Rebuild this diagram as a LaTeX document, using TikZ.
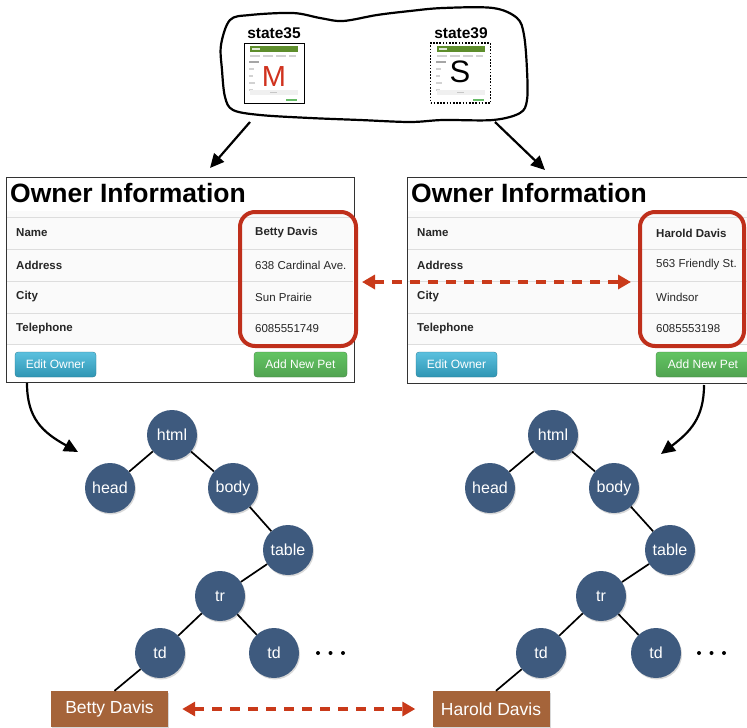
\documentclass[tikz,border=0pt]{standalone}
\usepackage{fontspec}
\setmainfont{Liberation Sans}
\usetikzlibrary{arrows.meta,shadows}
\definecolor{nodeblue}{HTML}{3E5A7E}
\definecolor{brownbox}{HTML}{A5643A}
\definecolor{redarrow}{HTML}{C93A1A}
\definecolor{redframe}{HTML}{BF2F1B}
\definecolor{btnbluetop}{HTML}{5BC0DE}
\definecolor{btnbluebot}{HTML}{2F96B4}
\definecolor{btngreentop}{HTML}{62C462}
\definecolor{btngreenbot}{HTML}{51A351}
\definecolor{rowline}{HTML}{DDDDDD}
\definecolor{thumbgreen}{HTML}{5E8E2C}
\definecolor{mred}{HTML}{D0321E}
\begin{document}
\begin{tikzpicture}[x=1pt,y=-1pt,
  treenode/.style={circle,fill=nodeblue,minimum size=50pt,inner sep=0pt,text=white,
    font=\fontsize{16}{16}\selectfont,
    drop shadow={opacity=0.3,shadow xshift=1pt,shadow yshift=-1.5pt}},
  leafbox/.style={rectangle,fill=brownbox,minimum width=117pt,minimum height=36pt,inner sep=0pt,
    text=white,font=\fontsize{17.5}{18}\selectfont,
    drop shadow={opacity=0.3,shadow xshift=1pt,shadow yshift=-1.5pt}},
  treeedge/.style={line width=1.7pt,black},
  paneltitle/.style={anchor=west,inner sep=0pt,font=\fontsize{26.5}{30}\selectfont\bfseries},
  rowlabel/.style={anchor=west,inner sep=0pt,font=\fontsize{11.5}{13}\selectfont\bfseries,text=black!85},
  rowvalue/.style={anchor=west,inner sep=0pt,font=\fontsize{11.5}{13}\selectfont,text=black!85},
  rowvaluebold/.style={rowvalue,font=\fontsize{11.5}{13}\selectfont\bfseries},
  bluebtn/.style={rectangle,rounded corners=3pt,top color=btnbluetop,bottom color=btnbluebot,
    draw=btnbluebot!80!black,line width=0.3pt,text=white,font=\fontsize{12}{13}\selectfont,
    minimum height=25pt,inner sep=0pt},
  greenbtn/.style={bluebtn,top color=btngreentop,bottom color=btngreenbot,draw=btngreenbot!80!black},
  redbox/.style={draw=redframe,line width=4pt,rounded corners=15pt},
  reddash/.style={draw=redarrow,line width=4pt,dash pattern=on 10pt off 8pt,
    {Triangle[length=13pt,width=14pt]}-{Triangle[length=13pt,width=14pt]}},
  sketcharrow/.style={line width=2.2pt,black,-{Triangle[length=14pt,width=13pt]}},
  statelabel/.style={inner sep=0pt,font=\fontsize{15.5}{16}\selectfont\bfseries},
  thumbframe/.style={rectangle,minimum width=60pt,minimum height=60pt,inner sep=0pt,line width=1pt}
]
\useasboundingbox (0,0) rectangle (747,728);
\clip (0,0) rectangle (747,728);
\fill[white] (0,0) rectangle (747,728);

% ---------- cloud ----------
\draw[line width=2.2pt,black] plot[smooth cycle,tension=0.55] coordinates {
  (221,45) (230,20) (250,15) (293,13) (320,18) (343,21) (377,15) (410,11) (443,8) (493,8)
  (517,18) (524,35) (527,70) (527,100) (520,113) (493,120) (443,120) (410,122) (360,120)
  (310,118) (260,115) (233,110) (225,97) (222,70)};

% thumbnails content
\foreach \tx in {244,431}{
\begin{scope}[shift={(\tx,43)}]
  \fill[thumbgreen] (6,3) rectangle (54,9);
  \fill[white!80!thumbgreen] (8,5) rectangle (16,7);
  \fill[gray!35] (6,12) rectangle (16,14);
  \fill[gray!35] (19,12) rectangle (29,14);
  \fill[gray!35] (32,12) rectangle (42,14);
  \fill[gray!35] (45,12) rectangle (52,14);
  \fill[gray!70] (5,18) rectangle (15,20);
  \fill[gray!35] (5,25) rectangle (10,26.5);
  \fill[gray!35] (5,32) rectangle (9,33.5);
  \fill[gray!35] (5,39) rectangle (11,40.5);
  \fill[gray!35] (5,46) rectangle (9,47.5);
  \fill[gray!12] (6,47) rectangle (54,52);
  \fill[gray!45] (26,49) rectangle (33,50);
  \fill[green!55!black!60] (42,56) rectangle (53,58);
\end{scope}}
\node[thumbframe,draw=black] (thumbM) at (274,73) {};
\node[thumbframe,draw=black,dash pattern=on 1.6pt off 1.6pt,line width=1.2pt] (thumbS) at (460.5,73) {};
\node[inner sep=0pt,text=mred,font=\fontsize{29}{29}\selectfont] (letterM) at (274,77) {M};
\node[inner sep=0pt,text=black,font=\fontsize{31}{31}\selectfont] (letterS) at (460,72) {S};
\node[statelabel] (st35) at (274,33) {state35};
\node[statelabel] (st39) at (461,33) {state39};

% arrows from cloud
\coordinate (cl1) at (250,122);
\coordinate (cl2) at (210,168);
\coordinate (cr1) at (495,122);
\coordinate (cr2) at (545,170);
\draw[sketcharrow] (cl1) -- (cl2);
\draw[sketcharrow] (cr1) -- (cr2);

% ---------- left panel ----------
\draw[black!80,line width=0.8pt,fill=white] (6,177) rectangle (354,382);
\fill[gray!4] (7,211) rectangle (353,344);
\foreach \yy in {217,249,281,313,344}{\draw[rowline,line width=0.8pt] (7,\yy) -- (353,\yy);}
\node[paneltitle] (ltitle) at (10,193) {Owner Information};
\node[rowlabel] (lname) at (16,233) {Name};
\node[rowlabel] (laddr) at (16,265) {Address};
\node[rowlabel] (lcity) at (16,297) {City};
\node[rowlabel] (ltel) at (16,328.5) {Telephone};
\node[rowvaluebold] (lvname) at (255,233) {Betty Davis};
\node[rowvalue] (lvaddr) at (255,265) {638 Cardinal Ave.};
\node[rowvalue] (lvcity) at (255,297) {Sun Prairie};
\node[rowvalue] (lvtel) at (255,328.5) {6085551749};
\node[bluebtn,minimum width=81pt] (ledit) at (55.5,364.5) {Edit Owner};
\node[greenbtn,minimum width=93pt] (ladd) at (300.5,364.5) {Add New Pet};
\draw[redbox] (240,212) rectangle (356,346);

% ---------- right panel ----------
\draw[black!80,line width=0.8pt,fill=white] (407,177) rectangle (760,383);
\fill[gray!4] (408,211) rectangle (760,344);
\foreach \yy in {217,249,281,313,344}{\draw[rowline,line width=0.8pt] (408,\yy) -- (760,\yy);}
\node[paneltitle] (rtitle) at (411,193) {Owner Information};
\node[rowlabel] (rname) at (417,233) {Name};
\node[rowlabel] (raddr) at (417,265) {Address};
\node[rowlabel] (rcity) at (417,297) {City};
\node[rowlabel] (rtel) at (417,328.5) {Telephone};
\node[rowvaluebold] (rvname) at (656,233) {Harold Davis};
\node[rowvalue] (rvaddr) at (656,265) {563 Friendly St.};
\node[rowvalue] (rvcity) at (656,297) {Windsor};
\node[rowvalue] (rvtel) at (656,328.5) {6085553198};
\node[bluebtn,minimum width=81pt] (redit) at (456.5,364.5) {Edit Owner};
\node[greenbtn,minimum width=94pt] (radd) at (703,364.5) {Add New Pet};
\draw[redbox] (640,212) rectangle (744,346);

% middle red dashed arrow
\coordinate (ma) at (362,282);
\coordinate (mb) at (631,282);
\draw[reddash] (ma) -- (mb);

% curved arrows from panels to trees
\coordinate (pl1) at (27,383);
\coordinate (pl2) at (78,452);
\coordinate (pr1) at (704,385);
\coordinate (pr2) at (661,454);
\draw[sketcharrow] (pl1) .. controls (27,418) and (42,432) .. (pl2);
\draw[sketcharrow] (pr1) .. controls (704,418) and (690,432) .. (pr2);

% ---------- left tree ----------
\node[treenode] (Lhtml) at (172,435) {html};
\node[treenode] (Lhead) at (110,488) {head};
\node[treenode] (Lbody) at (233,488) {body};
\node[treenode] (Ltable) at (288,550) {table};
\node[treenode] (Ltr) at (220,596) {tr};
\node[treenode] (Ltda) at (160,653) {td};
\node[treenode] (Ltdb) at (274,653) {td};
\node[leafbox] (Lbox) at (109.5,709) {Betty Davis};
\draw[treeedge] (Lhtml) -- (Lhead);
\draw[treeedge] (Lhtml) -- (Lbody);
\draw[treeedge] (Lbody) -- (Ltable);
\draw[treeedge] (Ltable) -- (Ltr);
\draw[treeedge] (Ltr) -- (Ltda);
\draw[treeedge] (Ltr) -- (Ltdb);
\draw[treeedge] (Ltda) -- ([xshift=5pt]Lbox.north);
\foreach \dx in {318,330.5,343}{\fill[black] (\dx,653) circle (2pt);}

% ---------- right tree ----------
\node[treenode] (Rhtml) at (553,435) {html};
\node[treenode] (Rhead) at (490,488) {head};
\node[treenode] (Rbody) at (614,488) {body};
\node[treenode] (Rtable) at (670,550) {table};
\node[treenode] (Rtr) at (601,596) {tr};
\node[treenode] (Rtda) at (541,653) {td};
\node[treenode] (Rtdb) at (656,653) {td};
\node[leafbox] (Rbox) at (491,709) {Harold Davis};
\draw[treeedge] (Rhtml) -- (Rhead);
\draw[treeedge] (Rhtml) -- (Rbody);
\draw[treeedge] (Rbody) -- (Rtable);
\draw[treeedge] (Rtable) -- (Rtr);
\draw[treeedge] (Rtr) -- (Rtda);
\draw[treeedge] (Rtr) -- (Rtdb);
\draw[treeedge] (Rtda) -- ([xshift=5pt]Rbox.north);
\foreach \dx in {699,711.5,724}{\fill[black] (\dx,653) circle (2pt);}

% bottom red dashed arrow
\draw[reddash] ([xshift=14pt]Lbox.east) -- ([xshift=-17pt]Rbox.west);
\end{tikzpicture}
\end{document}
